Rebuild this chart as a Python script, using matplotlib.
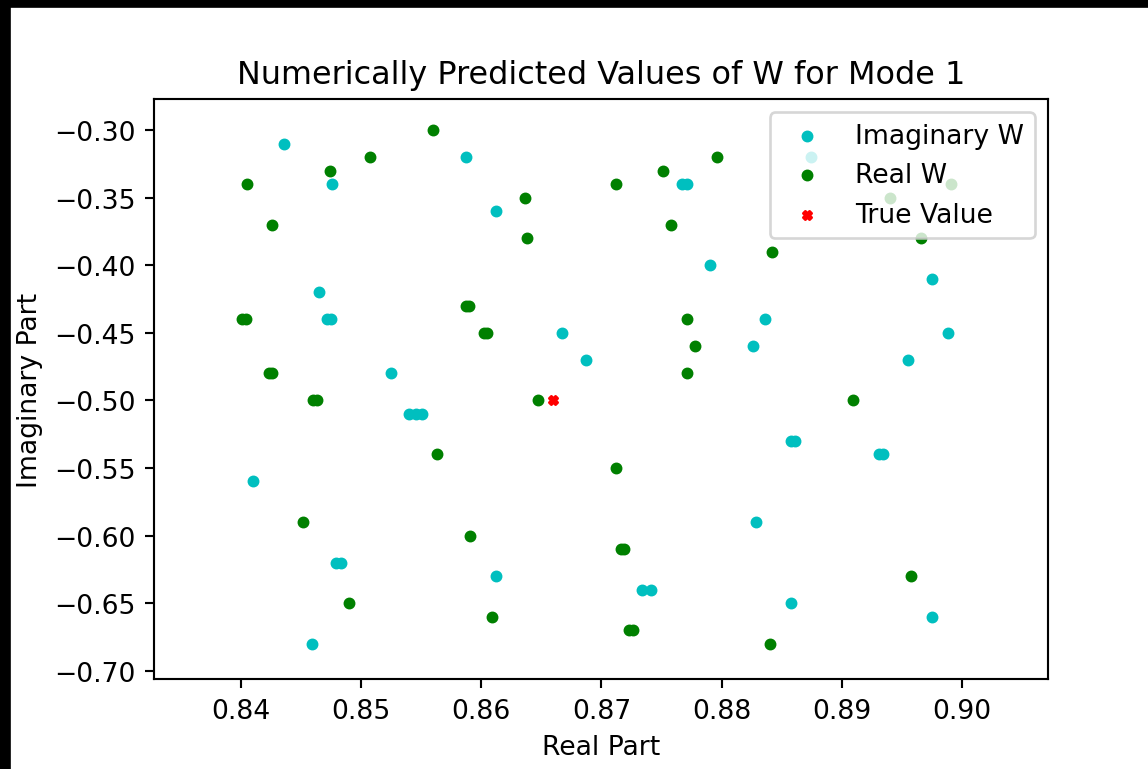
import matplotlib
matplotlib.use('Agg')
import matplotlib.pyplot as plt
from matplotlib.patches import Rectangle

# values
imag_re = [0.8436, 0.8587, 0.8874, 0.8476, 0.8767, 0.8771, 0.8612, 0.8790, 0.8975,
           0.8465, 0.8472, 0.8475, 0.8836, 0.8667, 0.8988, 0.8826, 0.8687, 0.8955,
           0.8525, 0.8540, 0.8546, 0.8551, 0.8858, 0.8861, 0.8931, 0.8934, 0.8410,
           0.8829, 0.8479, 0.8483, 0.8612, 0.8734, 0.8741, 0.8858, 0.8975, 0.8459]
imag_im = [-0.31, -0.32, -0.32, -0.34, -0.34, -0.34, -0.36, -0.40, -0.41,
           -0.42, -0.44, -0.44, -0.44, -0.45, -0.45, -0.46, -0.47, -0.47,
           -0.48, -0.51, -0.51, -0.51, -0.53, -0.53, -0.54, -0.54, -0.56,
           -0.59, -0.62, -0.62, -0.63, -0.64, -0.64, -0.65, -0.66, -0.68]

real_re = [0.8560, 0.8507, 0.8796, 0.8474, 0.8751, 0.8405, 0.8712, 0.8991, 0.8636,
           0.8940, 0.8426, 0.8758, 0.8638, 0.8966, 0.8842, 0.8587, 0.8590, 0.8401,
           0.8404, 0.8771, 0.8602, 0.8605, 0.8778, 0.8423, 0.8426, 0.8771, 0.8460,
           0.8463, 0.8647, 0.8909, 0.8563, 0.8712, 0.8452, 0.8591, 0.8716, 0.8719,
           0.8958, 0.8490, 0.8609, 0.8723, 0.8726, 0.8840]
real_im = [-0.30, -0.32, -0.32, -0.33, -0.33, -0.34, -0.34, -0.34, -0.35,
           -0.35, -0.37, -0.37, -0.38, -0.38, -0.39, -0.43, -0.43, -0.44,
           -0.44, -0.44, -0.45, -0.45, -0.46, -0.48, -0.48, -0.48, -0.50,
           -0.50, -0.50, -0.50, -0.54, -0.55, -0.59, -0.60, -0.61, -0.61,
           -0.63, -0.65, -0.66, -0.67, -0.67, -0.68]

true_re = [0.866]
true_im = [-0.50]

DPI = 191.33
fig = plt.figure(figsize=(1148 / DPI, 770 / DPI), dpi=DPI)
ax = fig.add_axes([0.1341, 0.1169, 0.7788, 0.7532])

ax.scatter(imag_re, imag_im, s=12, c='c', label='Imaginary W')
ax.scatter(real_re, real_im, s=12, c='g', label='Real W')
ax.scatter(true_re, true_im, s=10, c='r', marker='X', label='True Value')

ax.set_xlim(0.83276, 0.90716)
ax.set_ylim(-0.7061, -0.2771)
ax.set_xticks([0.84, 0.85, 0.86, 0.87, 0.88, 0.89, 0.90])
ax.set_yticks([-0.30, -0.35, -0.40, -0.45, -0.50, -0.55, -0.60, -0.65, -0.70])

ax.set_title('Numerically Predicted Values of W for Mode 1', fontsize=12)
ax.set_xlabel('Real Part')
ax.set_ylabel('Imaginary Part')
ax.legend(loc='upper right', scatterpoints=1)

# black screenshot edges on top and left
fig.patches.append(Rectangle((0, 1 - 7 / 770), 1, 7 / 770, transform=fig.transFigure,
                             color='black', zorder=10))
fig.patches.append(Rectangle((0, 0), 9 / 1148, 1, transform=fig.transFigure,
                             color='black', zorder=10))

fig.savefig('out.png', dpi=DPI)
